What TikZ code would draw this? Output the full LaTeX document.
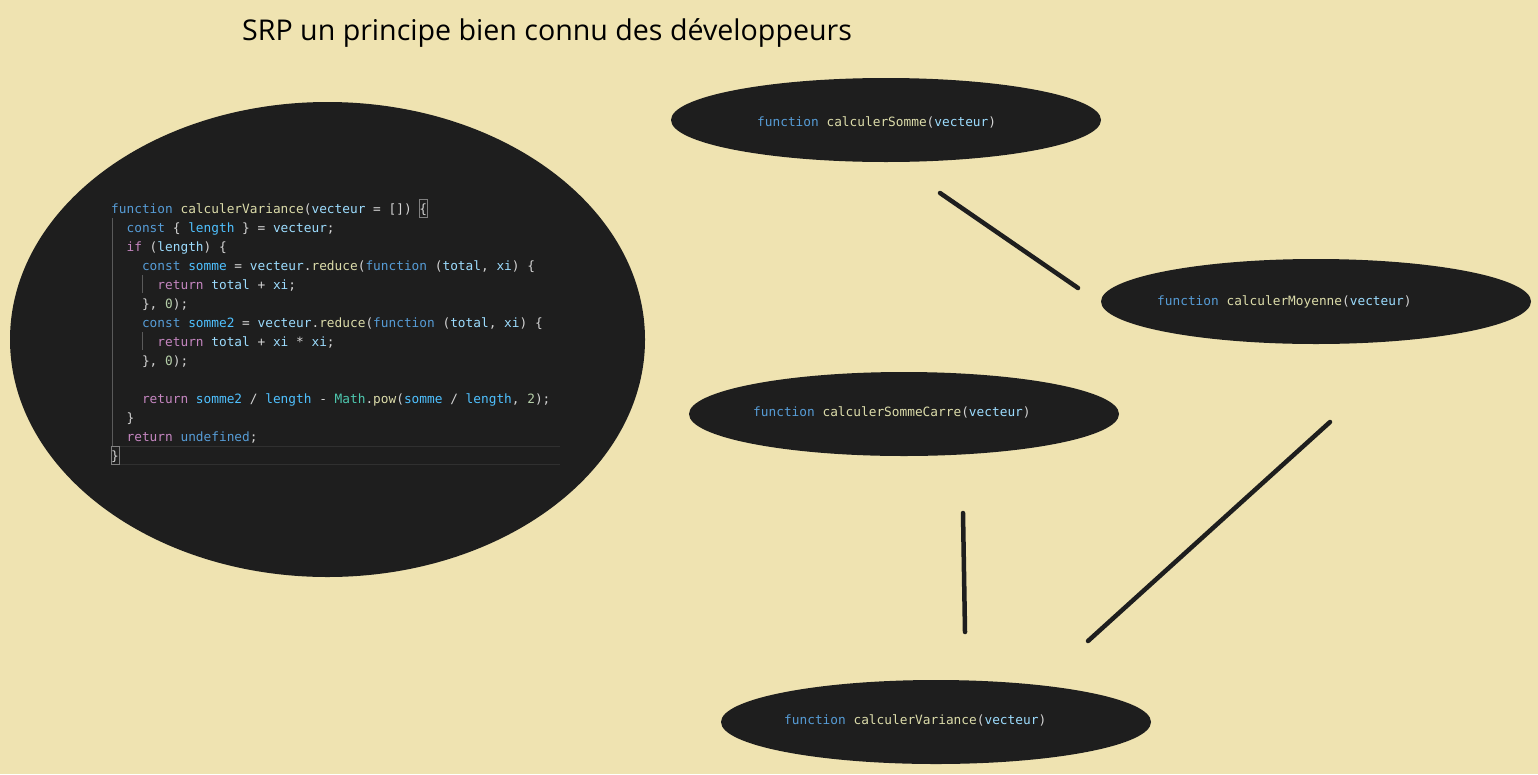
\documentclass[tikz,border=0pt]{standalone}
\usepackage{fontspec}
\setmainfont{Open Sans}
\setmonofont{DejaVu Sans Mono}
\usetikzlibrary{shapes.geometric}

\definecolor{fond}{HTML}{EFE3B1}
\definecolor{bulle}{HTML}{1E1E1E}
\definecolor{texte}{HTML}{D4D4D4}
\definecolor{kwblue}{HTML}{569CD6}
\definecolor{ctlpink}{HTML}{C586C0}
\definecolor{fnyellow}{HTML}{DCDCAA}
\definecolor{varblue}{HTML}{9CDCFE}
\definecolor{cstblue}{HTML}{4FC1FF}
\definecolor{clsgreen}{HTML}{4EC9B0}
\definecolor{numgreen}{HTML}{B5CEA8}
\definecolor{guide}{HTML}{5A5A5A}
\definecolor{ligne}{HTML}{303030}

\newcommand{\kw}[1]{\textcolor{kwblue}{#1}}
\newcommand{\ct}[1]{\textcolor{ctlpink}{#1}}
\newcommand{\fn}[1]{\textcolor{fnyellow}{#1}}
\newcommand{\vr}[1]{\textcolor{varblue}{#1}}
\newcommand{\cst}[1]{\textcolor{cstblue}{#1}}
\newcommand{\cls}[1]{\textcolor{clsgreen}{#1}}
\newcommand{\nm}[1]{\textcolor{numgreen}{#1}}
\newcommand{\indt}{\hspace*{1.204em}}
\newcommand{\signature}[1]{\kw{function} \fn{#1}(\vr{vecteur})}

\begin{document}
\begin{tikzpicture}[x=1pt,y=-1pt,
    bulle/.style={ellipse,fill=bulle,inner sep=0pt},
    code/.style={font=\fontsize{12.8}{19}\selectfont\ttfamily,text=texte,inner sep=0pt},
    trait/.style={draw=bulle,line width=4.5pt,line cap=round}]
	\fill[fond] (0,0) rectangle (1538,774);
	\useasboundingbox (0,0) rectangle (1538,774);
	\draw (242,33) node[anchor=west,inner sep=0pt,font=\fontsize{28.6}{34}\selectfont]{SRP un principe bien connu des développeurs};
	\node[bulle,minimum width=635pt,minimum height=475pt] (variancecode) at (327.5,339.5) {};
	\node[bulle,minimum width=430pt,minimum height=84pt] (somme) at (886,120) {};
	\node[bulle,minimum width=430pt,minimum height=85pt] (moyenne) at (1316,301.5) {};
	\node[bulle,minimum width=430pt,minimum height=84pt] (sommecarre) at (904,414) {};
	\node[bulle,minimum width=430pt,minimum height=84pt] (variance) at (936,722) {};
	\draw[ligne,line width=0.8pt] (111,446) -- (560,446) (111,464) -- (560,464);
	\draw[guide,line width=0.8pt] (112.5,218) -- (112.5,446);
	\draw[guide,line width=0.8pt] (142.5,275) -- (142.5,293) (142.5,332) -- (142.5,350);
	\draw[gray,line width=0.6pt] (419.5,199) rectangle (427.5,217) (111.5,446.5) rectangle (119.5,464);
	\node[code,anchor=north west,align=left] (listing) at (111,203) {%
\kw{function} \fn{calculerVariance}(\vr{vecteur} = []) \{\\
\indt\kw{const} \{ \cst{length} \} = \vr{vecteur};\\
\indt\ct{if} (\vr{length}) \{\\
\indt\indt\kw{const} \cst{somme} = \vr{vecteur}.\fn{reduce}(\kw{function} (\vr{total}, \vr{xi}) \{\\
\indt\indt\indt\ct{return} \vr{total} + \vr{xi};\\
\indt\indt\}, \nm{0});\\
\indt\indt\kw{const} \cst{somme2} = \vr{vecteur}.\fn{reduce}(\kw{function} (\vr{total}, \vr{xi}) \{\\
\indt\indt\indt\ct{return} \vr{total} + \vr{xi} * \vr{xi};\\
\indt\indt\}, \nm{0});\\
\mbox{}\\
\indt\indt\ct{return} \cst{somme2} / \cst{length} - \cls{Math}.\fn{pow}(\cst{somme} / \cst{length}, \nm{2});\\
\indt\}\\
\indt\ct{return} \kw{undefined};\\
\}};
	\node[code,anchor=west] (txtsomme) at ([xshift=-129pt,yshift=-2pt]somme.center) {\signature{calculerSomme}};
	\node[code,anchor=west] (txtmoyenne) at ([xshift=-159pt]moyenne.center) {\signature{calculerMoyenne}};
	\node[code,anchor=west] (txtsommecarre) at ([xshift=-151pt,yshift=2pt]sommecarre.center) {\signature{calculerSommeCarre}};
	\node[code,anchor=west] (txtvariance) at ([xshift=-152pt,yshift=2pt]variance.center) {\signature{calculerVariance}};
	\coordinate (t1a) at (940,193);
	\coordinate (t1b) at (1078,288);
	\coordinate (t2a) at (1330,422);
	\coordinate (t2b) at (1088,641);
	\coordinate (t3a) at (963,513);
	\coordinate (t3b) at (965,632);
	\draw[trait] (t1a) -- (t1b);
	\draw[trait] (t2a) -- (t2b);
	\draw[trait] (t3a) -- (t3b);
\end{tikzpicture}
\end{document}
